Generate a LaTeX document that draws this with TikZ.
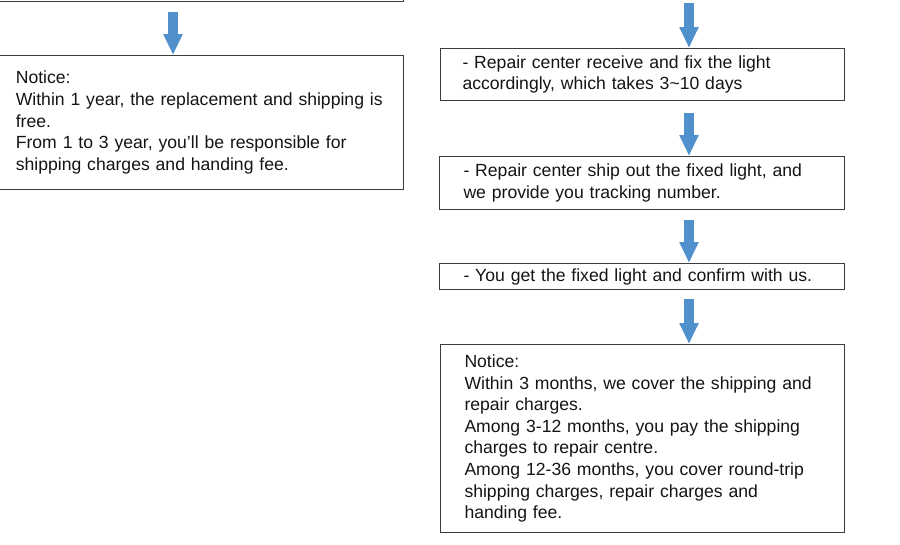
\documentclass[tikz,border=0pt]{standalone}
\usepackage{fontspec}
\setmainfont{Liberation Sans}
\usetikzlibrary{arrows.meta}
\definecolor{arrowblue}{RGB}{80,145,205}
\definecolor{boxline}{RGB}{60,60,60}
\definecolor{txt}{RGB}{20,20,20}
\begin{document}
\begin{tikzpicture}[x=0.75pt,y=-0.75pt,
  box/.style={draw=boxline, line width=0.75pt, rectangle, anchor=north west,
    align=left, inner ysep=0pt, text=txt,
    font=\fontsize{13.2pt}{16.2pt}\selectfont},
  flow/.style={draw=arrowblue, line width=7.5pt,
    -{Triangle[width=13.5pt,length=15.75pt]}}]
\useasboundingbox (0,0) rectangle (900,544);
\clip (0,0) rectangle (900,544);

% left column
\node[box, minimum width=309.75pt, minimum height=45.75pt, inner xsep=19pt, text width=271.75pt] (L0) at (-10,-60) {};
\node[box, minimum width=309.75pt, minimum height=100.5pt, inner xsep=19pt, text width=271.75pt] (L1) at (-10,55)
  {\mbox{Notice:}\\
   \mbox{Within 1 year, the replacement and shipping is}\\
   \mbox{free.}\\
   \mbox{From 1 to 3 year, you’ll be responsible for}\\
   \mbox{shipping charges and handing fee.}};

% right column
\node[box, minimum width=303pt, minimum height=39pt, inner xsep=16.5pt, text width=270pt] (R1) at (440,48)
  {- Repair center receive and fix the light\\
   accordingly, which takes 3\textasciitilde10 days};
\node[box, minimum width=303.75pt, minimum height=39.75pt, inner xsep=18pt, text width=267.75pt] (R2) at (439,156)
  {- Repair center ship out the fixed light, and\\
   we provide you tracking number.};
\node[box, minimum width=303.75pt, minimum height=19.5pt, inner xsep=18pt, text width=267.75pt] (R3) at (439,263)
  {- You get the fixed light and confirm with us.};
\node[box, minimum width=303pt, minimum height=141pt, inner xsep=18pt, text width=267pt] (R4) at (440,344)
  {Notice:\\
   Within 3 months, we cover the shipping and\\
   repair charges.\\
   Among 3-12 months, you pay the shipping\\
   charges to repair centre.\\
   Among 12-36 months, you cover round-trip\\
   shipping charges, repair charges and\\
   handing fee.};

% column guides for arrows
\coordinate (cL) at (173,0);
\coordinate (cR) at (689,0);
\coordinate (topR) at (689,3);

% connectors
\draw[flow, shorten <=7.5pt] (L0.south -| cL) -- (L1.north -| cL);
\draw[flow] (topR) -- (R1.north -| cR);
\draw[flow, shorten <=9pt] (R1.south -| cR) -- (R2.north -| cR);
\draw[flow, shorten <=7.5pt] (R2.south -| cR) -- (R3.north -| cR);
\draw[flow, shorten <=6.75pt] (R3.south -| cR) -- (R4.north -| cR);
\end{tikzpicture}
\end{document}
